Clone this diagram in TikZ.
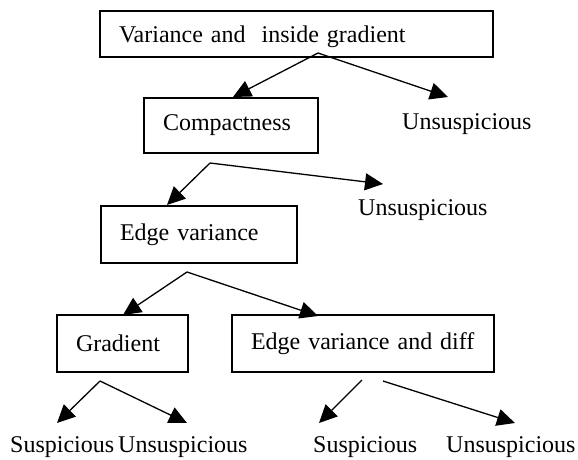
\documentclass[tikz,border=0pt]{standalone}
\usepackage{fontspec}
\setmainfont{Liberation Serif}
\usetikzlibrary{arrows.meta}
\begin{document}
\begin{tikzpicture}[x=1pt,y=-1pt,
  every node/.style={font=\fontsize{24}{28}\selectfont},
  box/.style={draw, line width=1.3pt, align=left, inner xsep=19pt, inner ysep=0pt},
  lbl/.style={anchor=base west, inner sep=0pt},
  arr/.style={line width=1.3pt, -{Triangle[length=18pt,width=17pt]}}]
\useasboundingbox (0,0) rectangle (578,459);
% boxes
\node[box, text width=355pt, minimum height=46pt, text height=20pt, text depth=4pt] (b1) at (296.5,34) {Variance and\ \ inside gradient};
\node[box, text width=136pt, minimum height=55pt] (b2) at (231,125.5) {Compactness};
\node[box, text width=158pt, minimum height=57pt] (b3) at (199,234.5) {Edge variance};
\node[box, text width=93pt, minimum height=57pt] (b4) at (122.5,343.5) {Gradient};
\node[box, text width=224pt, minimum height=57pt] (b5) at (363,343.5) {Edge variance and diff};
% labels
\node[lbl] (u1) at (402,129) {Unsuspicious};
\node[lbl] (u2) at (358,215) {Unsuspicious};
\node[lbl] (s3) at (10,452) {Suspicious};
\node[lbl] (u3) at (118,452) {Unsuspicious};
\node[lbl] (s4) at (313,452) {Suspicious};
\node[lbl] (u4) at (446,452) {Unsuspicious};
% connector points
\coordinate (o1) at (318,53);
\coordinate (t1a) at (233,97);
\coordinate (t1b) at (448,97);
\coordinate (o2) at (210,163);
\coordinate (t2a) at (167,205);
\coordinate (t2b) at (383,184);
\coordinate (o3) at (187,272);
\coordinate (t3a) at (123,315);
\coordinate (t3b) at (318,316);
\coordinate (o4) at (100,381);
\coordinate (t4a) at (57,423);
\coordinate (t4b) at (187,423);
\coordinate (o5a) at (362,380);
\coordinate (t5a) at (319,423);
\coordinate (o5b) at (383,381);
\coordinate (t5b) at (515,423);
% connectors
\draw[arr] (o1) -- (t1a);
\draw[arr] (o1) -- (t1b);
\draw[arr] (o2) -- (t2a);
\draw[arr] (o2) -- (t2b);
\draw[arr] (o3) -- (t3a);
\draw[arr] (o3) -- (t3b);
\draw[arr] (o4) -- (t4a);
\draw[arr] (o4) -- (t4b);
\draw[arr] (o5a) -- (t5a);
\draw[arr] (o5b) -- (t5b);
\end{tikzpicture}
\end{document}
